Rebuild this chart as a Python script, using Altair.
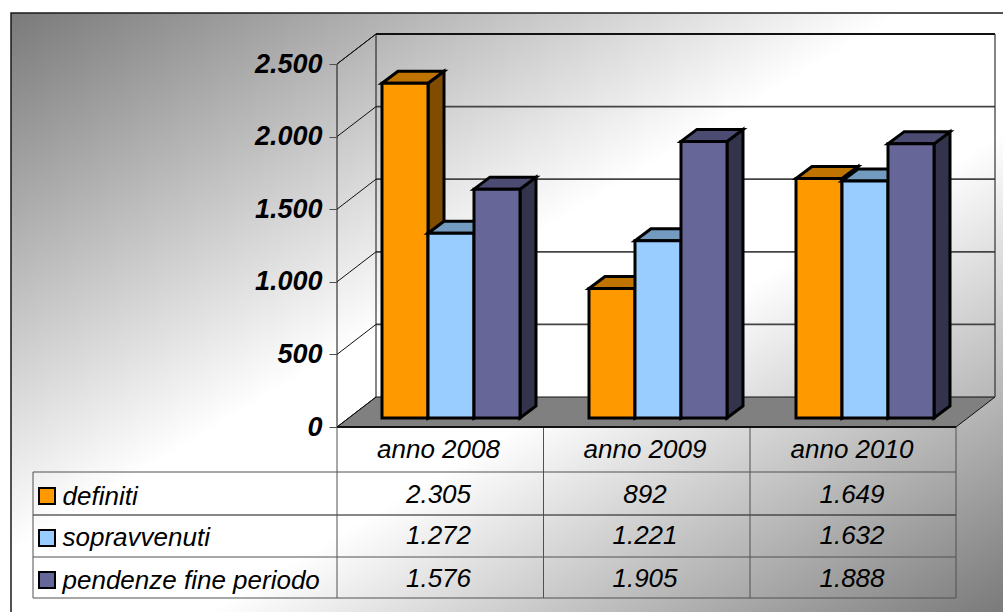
import altair as alt
import pandas as pd

# Figures shown in the data table
years = ["anno 2008", "anno 2009", "anno 2010"]
series_names = ["definiti", "sopravvenuti", "pendenze fine periodo"]
definiti = [2305, 892, 1649]
sopravvenuti = [1272, 1221, 1632]
pendenze = [1576, 1905, 1888]
value_ticks = [0, 500, 1000, 1500, 2000, 2500]

series_values = [definiti, sopravvenuti, pendenze]
front_colors = ["#ff9900", "#99ccff", "#666699"]
top_colors = ["#bf7300", "#739abf", "#4c4c73"]
side_colors = ["#7f4c00", "#4c667f", "#33334c"]

W, H = 1003, 612
ZERO_Y, PX_PER_UNIT = 427.0, 0.1452
FRONT_L, FRONT_R = 337, 956


def level(py):
    """Value on the y scale that lands on pixel row py."""
    return (ZERO_Y - py) / PX_PER_UNIT


def fmt(v):
    return f"{v:,}".replace(",", ".")


# The value axis is declared identically on every layer so the merged layer keeps it
value_axis = alt.Axis(
    orient="left", offset=-FRONT_L, values=value_ticks, domain=False, grid=False, title=None,
    tickColor="#505050", tickSize=8, tickWidth=1, labelPadding=7, zindex=1,
    labelFont="Liberation Sans", labelFontStyle="italic", labelFontWeight="bold",
    labelFontSize=27, labelColor="#000000", labelOverlap=False, labelBaseline="middle",
    labelExpr="replace(format(datum.value, ','), ',', '.')",
)
X = lambda f="x": alt.X(f"{f}:Q", scale=alt.Scale(domain=[0, W], range=[0, W], nice=False, zero=False), axis=None)
Y = lambda f="y": alt.Y(
    f"{f}:Q", stack=None, axis=value_axis,
    scale=alt.Scale(domain=[level(H), level(0)], range=[H, 0], nice=False, zero=False),
)
X2 = lambda f="x2": alt.X2(f"{f}:Q")
Y2 = lambda f="y2": alt.Y2(f"{f}:Q")

layers = []

# Panel background with its diagonal sheen
background = pd.DataFrame([{"x": 11, "x2": W, "y": level(13), "y2": level(H)}])
layers.append(
    alt.Chart(background).mark_rect(
        color=alt.LinearGradient(
            gradient="linear", x1=0, y1=0, x2=1, y2=1,
            stops=[
                alt.GradientStop(color="#7a7a7a", offset=0),
                alt.GradientStop(color="#ffffff", offset=0.45),
                alt.GradientStop(color="#ffffff", offset=0.6),
                alt.GradientStop(color="#7a7a7a", offset=1),
            ],
        )
    ).encode(x=X(), x2=X2(), y=Y(), y2=Y2())
)

# Panel edges, 3D walls and gridlines share one line layer
DEPTH_X, DEPTH_V = 39, level(397)
lines = []


def add_line(group, pts, color, width):
    for i, (px, v) in enumerate(pts):
        lines.append({"id": group, "x": px, "y": v, "ord": i, "c": color, "w": width})


add_line("frame", [(11, level(H)), (11, level(13)), (W, level(13))], "#1a1a1a", 1.5)

floor = pd.DataFrame(
    [
        {"y": 0, "x": FRONT_L, "x2": FRONT_R},
        {"y": DEPTH_V, "x": FRONT_L + DEPTH_X, "x2": FRONT_R + DEPTH_X},
    ]
)
layers.append(
    alt.Chart(floor).mark_area(orient="horizontal", color="#808080", stroke="#111111", strokeWidth=1).encode(
        x=X(), x2=X2(), y=Y()
    )
)

for t in value_ticks:
    back = t + DEPTH_V
    add_line(f"left{t}", [(FRONT_L, t), (FRONT_L + DEPTH_X, back)], "#111111", 1)
    if t > 0:
        add_line(f"back{t}", [(FRONT_L + DEPTH_X, back), (FRONT_R + DEPTH_X, back)],
                 "#111111" if t == 2500 else "#444444", 1.8)
add_line("wall-left", [(FRONT_L, 0), (FRONT_L, 2500), (FRONT_L + DEPTH_X, 2500 + DEPTH_V), (FRONT_L + DEPTH_X, DEPTH_V)], "#111111", 1)
add_line("wall-right", [(FRONT_R + DEPTH_X, DEPTH_V), (FRONT_R + DEPTH_X, 2500 + DEPTH_V)], "#333333", 1.2)

# Data table grid
COL_EDGES = [FRONT_L, 543.5, 750, FRONT_R]
ROW_LINES = [472, 515, 557, 598]
for i, py in enumerate(ROW_LINES):
    add_line(f"row{i}", [(33, level(py)), (FRONT_R, level(py))], "#111111" if i == 1 else "#505050", 1)
for i, px in enumerate(COL_EDGES):
    add_line(f"col{i}", [(px, 0), (px, level(598))], "#505050", 1)
add_line("col-left", [(33, level(472)), (33, level(598))], "#505050", 1)
add_line("baseline", [(FRONT_L, 0), (FRONT_R, 0)], "#111111", 2)

layers.append(
    alt.Chart(pd.DataFrame(lines)).mark_line(interpolate="linear").encode(
        x=X(), y=Y(), order="ord:Q", detail="id:N",
        color=alt.Color("c:N", scale=None), strokeWidth=alt.StrokeWidth("w:Q", scale=None),
    )
)

# Bars: painted left to right so each block overlaps its left neighbour's side
FIRST_BAR, GROUP_STEP, BAR_W = 382, 207, 46
BAR_DX, BAR_DV = 16, 12 / PX_PER_UNIT
BASE_V = level(418)
STROKE = dict(stroke="#000000", strokeWidth=3, strokeJoin="miter")

for s, values in enumerate(series_values):
    sides, tops, fronts = [], [], []
    for g, v in enumerate(values):
        left = FIRST_BAR + g * GROUP_STEP + s * BAR_W
        right = left + BAR_W
        top = v + BASE_V
        sides += [
            {"id": g, "x": right, "y": top, "y2": BASE_V},
            {"id": g, "x": right + BAR_DX, "y": top + BAR_DV, "y2": BASE_V + BAR_DV},
        ]
        tops += [
            {"id": g, "y": top, "x": left, "x2": right},
            {"id": g, "y": top + BAR_DV, "x": left + BAR_DX, "x2": right + BAR_DX},
        ]
        fronts.append({"x": left, "x2": right, "y": top, "y2": BASE_V})
    layers.append(
        alt.Chart(pd.DataFrame(sides)).mark_area(color=side_colors[s], **STROKE).encode(
            x=X(), y=Y(), y2=Y2(), detail="id:N")
    )
    layers.append(
        alt.Chart(pd.DataFrame(tops)).mark_area(orient="horizontal", color=top_colors[s], **STROKE).encode(
            x=X(), x2=X2(), y=Y(), detail="id:N")
    )
    layers.append(
        alt.Chart(pd.DataFrame(fronts)).mark_rect(color=front_colors[s], **STROKE).encode(
            x=X(), x2=X2(), y=Y(), y2=Y2())
    )

# Table text
COL_CENTERS = [438.5, 645, 852]
ROW_CENTERS = [495, 536, 579]
cells = [{"x": cx, "y": level(450), "t": year} for cx, year in zip(COL_CENTERS, years)]
for py, values in zip(ROW_CENTERS, series_values):
    cells += [{"x": cx, "y": level(py), "t": fmt(v)} for cx, v in zip(COL_CENTERS, values)]
text_style = dict(font="Liberation Sans", fontStyle="italic", fontSize=26, color="#000000", baseline="middle")
layers.append(
    alt.Chart(pd.DataFrame(cells)).mark_text(align="center", **text_style).encode(x=X(), y=Y(), text="t:N")
)
names = pd.DataFrame(
    [{"x": 62.5, "y": level(py + 1.5), "t": n} for py, n in zip(ROW_CENTERS, series_names)]
)
layers.append(
    alt.Chart(names).mark_text(align="left", **text_style).encode(x=X(), y=Y(), text="t:N")
)

# Legend keys in the first table column
keys = pd.DataFrame(
    [
        {"x": 39, "x2": 55, "y": level(py - 8), "y2": level(py + 8), "c": c}
        for py, c in zip([496, 538, 580], front_colors)
    ]
)
layers.append(
    alt.Chart(keys).mark_rect(stroke="#000000", strokeWidth=2).encode(
        x=X(), x2=X2(), y=Y(), y2=Y2(), color=alt.Color("c:N", scale=None))
)

chart = alt.layer(*layers).properties(
    width=W, height=H, padding=0, autosize=alt.AutoSizeParams(type="none"), background="#ffffff"
).configure_view(stroke=None)

chart.save("out.html", embed_options={"renderer": "svg", "actions": False})
